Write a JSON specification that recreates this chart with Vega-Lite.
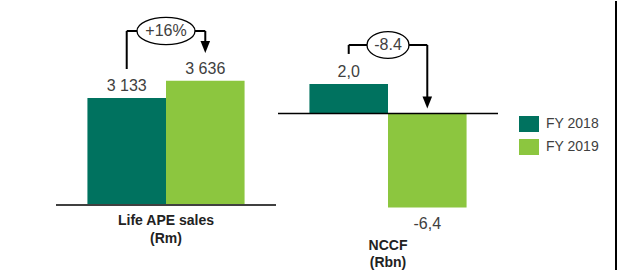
{
  "$schema": "https://vega.github.io/schema/vega-lite/v6.json",
  "padding": {"left": 55, "top": 0, "right": 23, "bottom": 0},
  "autosize": {"type": "pad"},
  "spacing": 0,
  "background": "white",
  "config": {
    "view": {"stroke": null},
    "font": "Liberation Sans",
    "text": {"color": "#404040", "font": "Liberation Sans"},
    "legend": {
      "orient": "none",
      "legendX": 463,
      "legendY": 113,
      "title": null,
      "padding": 0,
      "symbolType": "M-1,-0.8H1V0.8H-1Z",
      "symbolSize": 400,
      "symbolStrokeWidth": 0,
      "symbolOpacity": 1,
      "labelFontSize": 14,
      "labelColor": "#404040",
      "labelFont": "Liberation Sans",
      "labelOffset": 7,
      "rowPadding": 5
    }
  },
  "data": {
    "values": [
      {"metric": "Life APE sales", "year": "FY 2018", "value": 3133, "label": "3 133"},
      {"metric": "Life APE sales", "year": "FY 2019", "value": 3636, "label": "3 636"},
      {"metric": "NCCF", "year": "FY 2018", "value": 2.0, "label": "2,0"},
      {"metric": "NCCF", "year": "FY 2019", "value": -6.4, "label": "-6,4"}
    ]
  },
  "hconcat": [
    {
      "width": 220,
      "height": 270,
      "transform": [{"filter": "datum.metric === 'Life APE sales'"}],
      "layer": [
        {
          "mark": {"type": "bar"},
          "encoding": {
            "x": {"field": "year", "type": "nominal", "scale": {"paddingInner": 0, "paddingOuter": 0.4}, "axis": null},
            "y": {"field": "value", "type": "quantitative", "scale": {"domain": [-1933, 5974], "nice": false, "zero": false}, "axis": null},
            "color": {"field": "year", "type": "nominal", "scale": {"domain": ["FY 2018", "FY 2019"], "range": ["#00725F", "#8CC63F"]}}
          }
        },
        {
          "data": {"values": [{}]},
          "mark": {"type": "rule", "color": "#404040", "strokeWidth": 2},
          "encoding": {"y": {"datum": 0}}
        },
        {
          "mark": {"type": "text", "baseline": "alphabetic", "dy": -7, "fontSize": 16},
          "encoding": {
            "x": {"field": "year", "type": "nominal"},
            "y": {"field": "value", "type": "quantitative"},
            "text": {"field": "label"}
          }
        },
        {
          "data": {"values": [{}]},
          "mark": {"type": "rule", "color": "black", "strokeWidth": 2},
          "encoding": {
            "x": {"datum": "FY 2018"},
            "x2": {"datum": "FY 2019"},
            "y": {"datum": 5095}
          }
        },
        {
          "data": {"values": [{}]},
          "mark": {"type": "rule", "color": "black", "strokeWidth": 2},
          "encoding": {
            "x": {"datum": "FY 2018"},
            "y": {"datum": 3982},
            "y2": {"datum": 5095}
          }
        },
        {
          "data": {"values": [{}]},
          "mark": {"type": "rule", "color": "black", "strokeWidth": 2},
          "encoding": {
            "x": {"datum": "FY 2019"},
            "y": {"datum": 4720},
            "y2": {"datum": 5095}
          }
        },
        {
          "data": {"values": [{}]},
          "mark": {"type": "point", "filled": true, "color": "black", "opacity": 1, "shape": "M-0.8,-1L0.8,-1L0,1Z", "size": 144},
          "encoding": {
            "x": {"datum": "FY 2019"},
            "y": {"datum": 4627}
          }
        },
        {
          "data": {"values": [{}]},
          "mark": {"type": "point", "filled": true, "fill": "white", "stroke": "black", "strokeWidth": 1.3, "opacity": 1, "shape": "M-1,0A1,0.47 0 1,0 1,0A1,0.47 0 1,0 -1,0Z", "size": 3364},
          "encoding": {
            "x": {"datum": "FY 2018", "bandPosition": 1},
            "y": {"datum": 5095}
          }
        },
        {
          "data": {"values": [{}]},
          "mark": {"type": "text", "text": "+16%", "fontSize": 16, "baseline": "middle"},
          "encoding": {
            "x": {"datum": "FY 2018", "bandPosition": 1},
            "y": {"datum": 5095}
          }
        },
        {
          "data": {"values": [{}]},
          "mark": {"type": "text", "text": "Life APE sales\n(Rm)", "lineBreak": "\n", "lineHeight": 18, "fontSize": 14, "fontWeight": "bold", "color": "#222222", "baseline": "alphabetic"},
          "encoding": {
            "y": {"datum": -586}
          }
        }
      ]
    },
    {
      "width": 220,
      "height": 270,
      "transform": [{"filter": "datum.metric === 'NCCF'"}],
      "layer": [
        {
          "mark": {"type": "bar"},
          "encoding": {
            "x": {"field": "year", "type": "nominal", "scale": {"paddingInner": 0, "paddingOuter": 0.4}, "axis": null},
            "y": {"field": "value", "type": "quantitative", "scale": {"domain": [-10.71, 7.65], "nice": false, "zero": false}, "axis": null},
            "color": {"field": "year", "type": "nominal", "scale": {"domain": ["FY 2018", "FY 2019"], "range": ["#00725F", "#8CC63F"]}}
          }
        },
        {
          "data": {"values": [{}]},
          "mark": {"type": "rule", "color": "black", "strokeWidth": 1.5},
          "encoding": {"y": {"datum": 0}}
        },
        {
          "transform": [{"filter": "datum.value >= 0"}],
          "mark": {"type": "text", "baseline": "alphabetic", "dy": -7, "fontSize": 16},
          "encoding": {
            "x": {"field": "year", "type": "nominal"},
            "y": {"field": "value", "type": "quantitative"},
            "text": {"field": "label"}
          }
        },
        {
          "transform": [{"filter": "datum.value < 0"}],
          "mark": {"type": "text", "baseline": "alphabetic", "dy": 21, "fontSize": 16},
          "encoding": {
            "x": {"field": "year", "type": "nominal"},
            "y": {"field": "value", "type": "quantitative"},
            "text": {"field": "label"}
          }
        },
        {
          "data": {"values": [{}]},
          "mark": {"type": "rule", "color": "black", "strokeWidth": 2},
          "encoding": {
            "x": {"datum": "FY 2018"},
            "x2": {"datum": "FY 2019"},
            "y": {"datum": 4.66}
          }
        },
        {
          "data": {"values": [{}]},
          "mark": {"type": "rule", "color": "black", "strokeWidth": 2},
          "encoding": {
            "x": {"datum": "FY 2018"},
            "y": {"datum": 4.05},
            "y2": {"datum": 4.66}
          }
        },
        {
          "data": {"values": [{}]},
          "mark": {"type": "rule", "color": "black", "strokeWidth": 2},
          "encoding": {
            "x": {"datum": "FY 2019"},
            "y": {"datum": 1.0},
            "y2": {"datum": 4.66}
          }
        },
        {
          "data": {"values": [{}]},
          "mark": {"type": "point", "filled": true, "color": "black", "opacity": 1, "shape": "M-0.8,-1L0.8,-1L0,1Z", "size": 144},
          "encoding": {
            "x": {"datum": "FY 2019"},
            "y": {"datum": 0.75}
          }
        },
        {
          "data": {"values": [{}]},
          "mark": {"type": "point", "filled": true, "fill": "white", "stroke": "black", "strokeWidth": 1.3, "opacity": 1, "shape": "M-1,0A1,0.64 0 1,0 1,0A1,0.64 0 1,0 -1,0Z", "size": 1764},
          "encoding": {
            "x": {"datum": "FY 2018", "bandPosition": 1},
            "y": {"datum": 4.66}
          }
        },
        {
          "data": {"values": [{}]},
          "mark": {"type": "text", "text": "-8.4", "fontSize": 16, "baseline": "middle"},
          "encoding": {
            "x": {"datum": "FY 2018", "bandPosition": 1},
            "y": {"datum": 4.66}
          }
        },
        {
          "data": {"values": [{}]},
          "mark": {"type": "text", "text": "NCCF\n(Rbn)", "lineBreak": "\n", "lineHeight": 17, "fontSize": 14, "fontWeight": "bold", "color": "#222222", "baseline": "alphabetic"},
          "encoding": {
            "y": {"datum": -9.3}
          }
        }
      ]
    },
    {
      "width": 117,
      "height": 270,
      "data": {"values": [{}]},
      "mark": {"type": "rule", "color": "black", "strokeWidth": 2},
      "encoding": {
        "x": {"datum": 1, "type": "quantitative", "scale": {"domain": [0, 1]}, "axis": null}
      }
    }
  ],
  "resolve": {"scale": {"y": "independent", "x": "independent"}}
}
